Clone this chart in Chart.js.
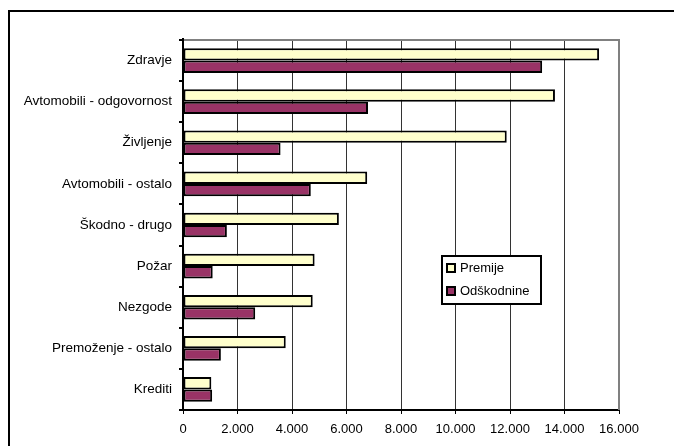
<!DOCTYPE html>
<html>
<head>
<meta charset="utf-8">
<script src="https://cdn.jsdelivr.net/npm/chart.js@4/dist/chart.umd.min.js"></script>
<style>
  html, body { margin: 0; padding: 0; background: #fff; overflow: hidden; }
  #wrap { position: relative; width: 674px; height: 446px; }
</style>
</head>
<body>
<div id="wrap"><canvas id="c" width="674" height="446"></canvas></div>
<script>
// Insurance lines
const categories = [
  'Zdravje',
  'Avtomobili - odgovornost',
  'Življenje',
  'Avtomobili - ostalo',
  'Škodno - drugo',
  'Požar',
  'Nezgode',
  'Premoženje - ostalo',
  'Krediti'
];
// Premiums and claims paid per line
const premije     = [15270, 13650, 11880, 6760, 5720, 4830, 4760, 3770, 1040];
const odskodnine  = [13180,  6790,  3580, 4690, 1610, 1090, 2650, 1390, 1070];
const seriesNames = ['Premije', 'Odškodnine'];
const xTicks = [0, 2000, 4000, 6000, 8000, 10000, 12000, 14000, 16000];

const FONT = 'Liberation Sans, Arial, sans-serif';

function fmtThousands(v) {
  return String(v).replace(/\B(?=(\d{3})+(?!\d))/g, '.');
}

// Outer frame, plot-area border (grey top/right) and the in-plot legend
const framePlugin = {
  id: 'frame',
  beforeDatasetsDraw(chart) {
    const { ctx, chartArea: a } = chart;
    ctx.save();
    ctx.strokeStyle = '#808080';
    ctx.lineWidth = 2;
    ctx.beginPath();
    ctx.moveTo(a.left, a.top);
    ctx.lineTo(a.right, a.top);
    ctx.lineTo(a.right, a.bottom);
    ctx.stroke();
    // left axis stub above the plot top
    ctx.strokeStyle = '#000';
    ctx.beginPath();
    ctx.moveTo(a.left, a.top - 2);
    ctx.lineTo(a.left, a.top + 1);
    ctx.stroke();
    ctx.restore();
  },
  afterDraw(chart) {
    const { ctx } = chart;
    ctx.save();
    // outer border: only the top and left edges fall inside the canvas
    ctx.fillStyle = '#000';
    ctx.fillRect(8, 10, 2, 436);
    ctx.fillRect(8, 10, 666, 2);

    // legend box
    const lx = 442, ly = 256, lw = 99, lh = 48;
    ctx.strokeStyle = '#000';
    ctx.lineWidth = 2;
    ctx.fillStyle = '#fff';
    ctx.fillRect(lx, ly, lw, lh);
    ctx.strokeRect(lx, ly, lw, lh);
    ctx.font = '13px ' + FONT;
    ctx.textBaseline = 'middle';
    chart.data.datasets.forEach((ds, i) => {
      const cy = ly + 12 + i * 23;
      ctx.fillStyle = ds.backgroundColor;
      ctx.fillRect(447, cy - 4, 8, 8);
      ctx.lineWidth = 2;
      ctx.strokeStyle = '#000';
      ctx.strokeRect(447, cy - 4, 8, 8);
      ctx.fillStyle = '#000';
      ctx.fillText(ds.label, 460, cy + 0.5);
    });
    ctx.restore();
  }
};

new Chart(document.getElementById('c'), {
  type: 'bar',
  data: {
    labels: categories,
    datasets: [
      {
        label: seriesNames[0],
        data: premije,
        backgroundColor: '#FFFFCC',
        borderColor: '#000',
        borderWidth: 2,
        borderSkipped: false
      },
      {
        label: seriesNames[1],
        data: odskodnine,
        backgroundColor: '#993366',
        borderColor: '#000',
        borderWidth: 2,
        borderSkipped: false
      }
    ]
  },
  options: {
    indexAxis: 'y',
    responsive: false,
    animation: false,
    events: [],
    layout: { padding: { left: 10, top: 40, right: 55, bottom: 4 } },
    plugins: {
      legend: { display: false },
      tooltip: { enabled: false }
    },
    datasets: {
      bar: { categoryPercentage: 0.6, barPercentage: 1.0 }
    },
    scales: {
      x: {
        type: 'linear',
        min: 0,
        max: 16000,
        afterBuildTicks(scale) {
          scale.ticks = xTicks.map(v => ({ value: v }));
        },
        afterFit(scale) { scale.height = 32; },
        border: { display: true, color: '#000', width: 2 },
        grid: {
          color: ctx => (ctx.index === xTicks.length - 1 || ctx.index === 0) ? 'rgba(0,0,0,0)' : '#333',
          tickColor: '#000',
          lineWidth: 1,
          tickLength: 4,
          drawTicks: true
        },
        ticks: {
          color: '#000',
          font: { family: FONT, size: 13 },
          padding: 8,
          maxRotation: 0,
          callback: v => fmtThousands(v)
        }
      },
      y: {
        afterFit(scale) { scale.width = 173; },
        border: { display: true, color: '#000', width: 2 },
        grid: {
          offset: true,
          drawOnChartArea: false,
          tickColor: '#000',
          lineWidth: 2,
          tickLength: 4
        },
        ticks: {
          color: '#000',
          font: { family: FONT, size: 13.5 },
          padding: 7
        }
      }
    }
  },
  plugins: [framePlugin]
});
</script>
</body>
</html>
